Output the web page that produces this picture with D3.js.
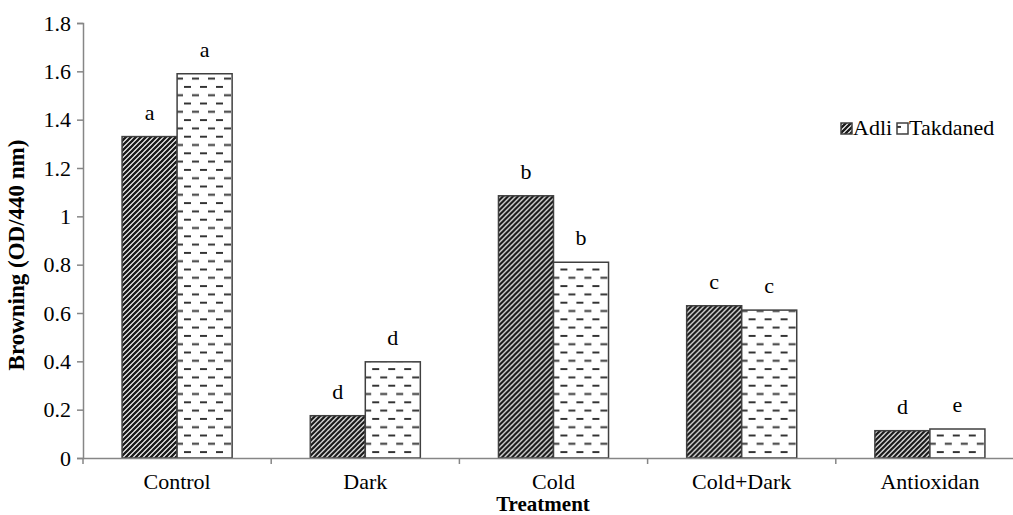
<!DOCTYPE html>
<html lang="en">
<head>
    <meta charset="utf-8">
    <title>Browning</title>
    <script src="https://d3js.org/d3.v7.min.js"></script>
    <style>
        body { margin: 0; background: white; }
    </style>
</head>
<body>
    <div id="chart"></div>
    <script>
        // chart data
        const categories = ["Control", "Dark", "Cold", "Cold+Dark", "Antioxidan"];
        const series = ["Adli", "Takdaned"];
        const adli = [1.33, 0.175, 1.085, 0.63, 0.113];
        const takdaned = [1.59, 0.398, 0.81, 0.612, 0.12];
        const adliLetters = ["a", "d", "b", "c", "d"];
        const takdanedLetters = ["a", "d", "b", "c", "e"];
        const yTicks = [0, 0.2, 0.4, 0.6, 0.8, 1, 1.2, 1.4, 1.6, 1.8];

        var width = 1013, height = 515;
        var plotLeft = 83, plotRight = 1024, plotTop = 23, plotBottom = 458;
        var serif = "'Liberation Serif'";
        var fontSize = "22px";

        var svg = d3.select("#chart").append("svg")
            .attr("width", width)
            .attr("height", height);

        // fill patterns
        var defs = svg.append("defs");
        var hatch = defs.append("pattern")
            .attr("id", "hatch")
            .attr("patternUnits", "userSpaceOnUse")
            .attr("width", 5).attr("height", 5);
        hatch.append("rect").attr("width", 5).attr("height", 5).attr("fill", "white");
        hatch.append("path")
            .attr("d", "M-1,1 l2,-2 M0,5 l5,-5 M4,6 l2,-2")
            .attr("stroke", "#1a1a1a")
            .attr("stroke-width", 2.3);

        var dash = defs.append("pattern")
            .attr("id", "dash")
            .attr("patternUnits", "userSpaceOnUse")
            .attr("width", 16).attr("height", 16.6);
        dash.append("rect").attr("width", 16).attr("height", 16.6).attr("fill", "white");
        dash.append("path")
            .attr("d", "M5,4 h7 M-3,12.3 h7 M13,12.3 h7")
            .attr("stroke", "#333")
            .attr("stroke-width", 2);

        var fills = {Adli: "url(#hatch)", Takdaned: "url(#dash)"};

        // scales
        var x0 = d3.scaleBand().domain(categories).range([plotLeft, plotRight]).padding(0);
        var x1 = d3.scaleBand().domain(series).range([0, x0.bandwidth()])
            .paddingInner(0).paddingOuter(0.71);
        var y = d3.scaleLinear().domain([0, 1.8]).range([plotBottom, plotTop]);

        var rows = categories.map((c, i) => ({
            cat: c,
            vals: [
                {s: "Adli", v: adli[i], l: adliLetters[i]},
                {s: "Takdaned", v: takdaned[i], l: takdanedLetters[i]}
            ]
        }));

        // bars
        var groups = svg.selectAll("g.cat")
            .data(rows)
            .enter().append("g")
            .attr("class", "cat")
            .attr("transform", d => "translate(" + x0(d.cat) + ",0)");

        groups.selectAll("rect")
            .data(d => d.vals)
            .enter().append("rect")
            .attr("x", d => x1(d.s))
            .attr("y", d => y(d.v))
            .attr("width", x1.bandwidth())
            .attr("height", d => plotBottom - y(d.v))
            .attr("fill", d => fills[d.s])
            .attr("stroke", "#404040")
            .attr("stroke-width", 1.5);

        groups.selectAll("text.letter")
            .data(d => d.vals)
            .enter().append("text")
            .attr("class", "letter")
            .attr("x", d => x1(d.s) + x1.bandwidth() / 2)
            .attr("y", d => y(d.v) - 17)
            .attr("text-anchor", "middle")
            .text(d => d.l);

        // y axis
        var yAxis = svg.append("g")
            .attr("transform", "translate(" + plotLeft + ",0)")
            .call(d3.axisLeft(y).tickValues(yTicks).tickSize(6).tickPadding(6)
                .tickFormat(d => String(+d.toFixed(1))));
        yAxis.attr("font-family", null);
        yAxis.select(".domain").attr("stroke", "#868686").attr("stroke-width", 1.5);
        yAxis.selectAll(".tick line").attr("stroke", "#868686").attr("stroke-width", 1.5);

        // x axis
        var xAxis = svg.append("g")
            .attr("transform", "translate(0," + plotBottom + ")")
            .call(d3.axisBottom(x0).tickSize(0).tickPadding(15));
        xAxis.attr("font-family", null);
        xAxis.select(".domain").attr("stroke", "#868686").attr("stroke-width", 1.5);
        // ticks between categories
        xAxis.selectAll("line.sep")
            .data(categories)
            .enter().append("line")
            .attr("class", "sep")
            .attr("x1", d => x0(d)).attr("x2", d => x0(d))
            .attr("y1", 0).attr("y2", 6)
            .attr("stroke", "#868686")
            .attr("stroke-width", 1.5);

        // legend
        var legend = svg.append("g").attr("transform", "translate(841,123)");
        var lx = [0, 56];
        series.forEach((s, i) => {
            legend.append("rect")
                .attr("x", lx[i]).attr("y", 0)
                .attr("width", 11).attr("height", 11)
                .attr("fill", fills[s])
                .attr("stroke", "#404040")
                .attr("stroke-width", 1.5);
            legend.append("text")
                .attr("x", lx[i] + 12).attr("y", 12)
                .text(s);
        });

        // same serif font on every text
        svg.selectAll("text")
            .style("font-family", serif)
            .style("font-size", fontSize)
            .attr("fill", "#000");

        // axis titles
        svg.append("text")
            .attr("x", 543).attr("y", 511)
            .attr("text-anchor", "middle")
            .style("font-family", serif)
            .style("font-size", "21px")
            .style("font-weight", "bold")
            .text("Treatment");

        svg.append("text")
            .attr("transform", "translate(24,255) rotate(-90)")
            .attr("text-anchor", "middle")
            .style("font-family", serif)
            .style("font-size", "23px")
            .style("font-weight", "bold")
            .text("Browning (OD/440 nm)");
    </script>
</body>
</html>
